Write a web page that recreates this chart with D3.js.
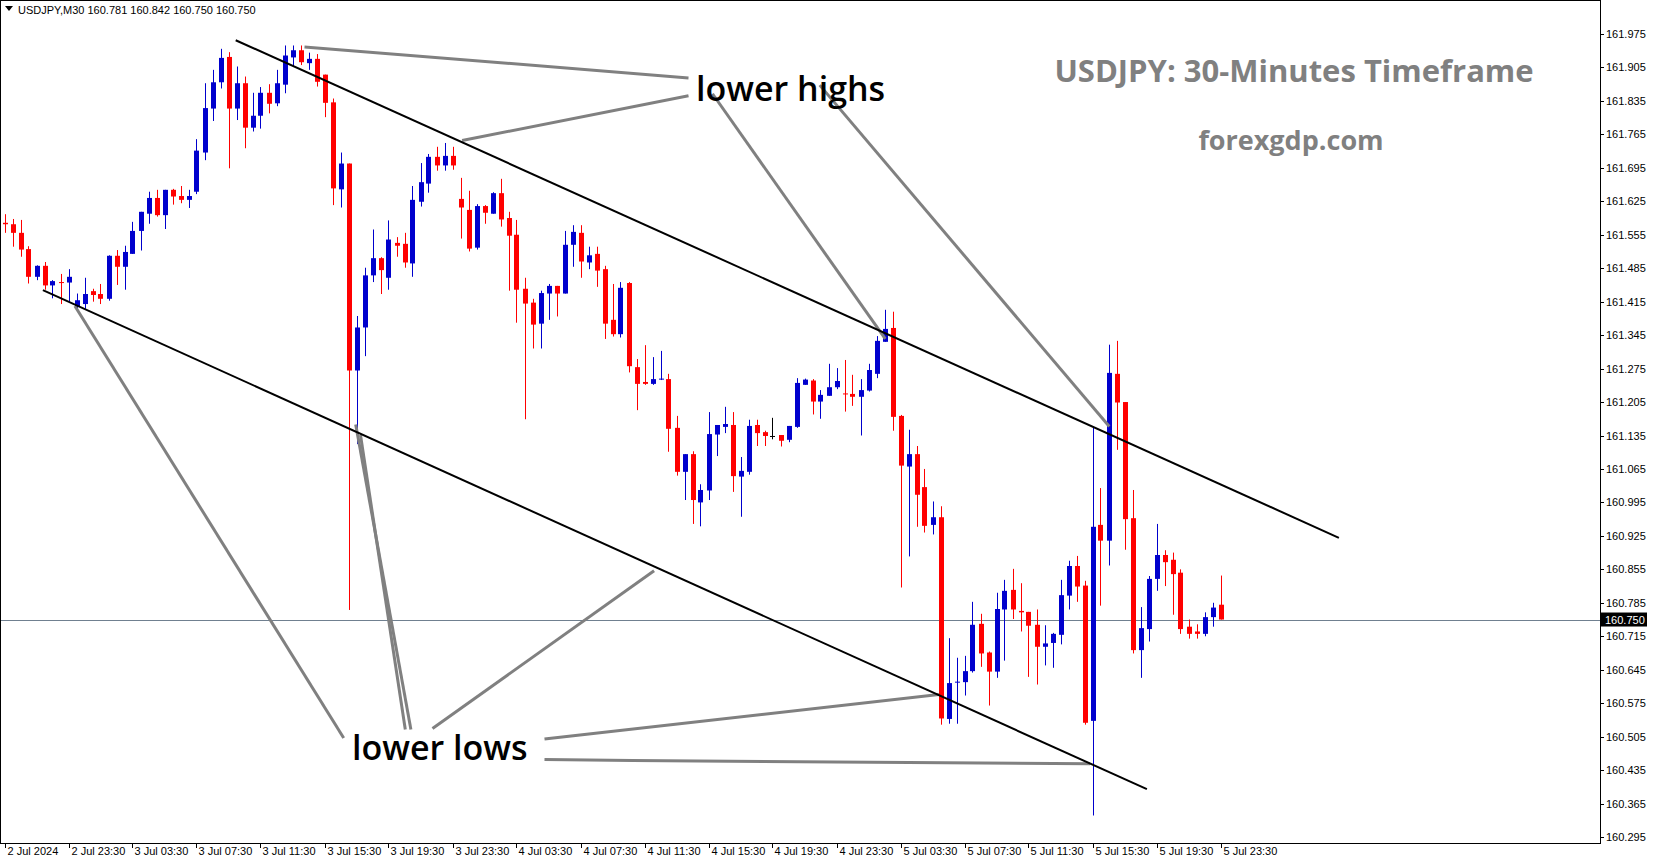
<!DOCTYPE html>
<html>
<head>
<meta charset="utf-8">
<script src="https://cdn.jsdelivr.net/npm/d3@7"></script>
<style>
  body { margin: 0; background: #fff; }
  svg { display: block; }
  .tick-label { font-family: "Liberation Sans", Arial, sans-serif; font-size: 11px; fill: #000; }
</style>
</head>
<body>
<div id="main"></div>
<script>
// OHLC for USDJPY M30, bar 0 = 2 Jul 19:30, bar 152 = 5 Jul 23:30
var opens = [161.580,161.577,161.559,161.525,161.467,161.490,161.449,161.456,161.455,161.405,
  161.410,161.437,161.431,161.421,161.511,161.488,161.515,161.563,161.599,161.632,
  161.596,161.649,161.636,161.628,161.645,161.727,161.819,161.874,161.927,161.819,
  161.872,161.779,161.804,161.852,161.830,161.869,161.926,161.941,161.914,161.923,
  161.890,161.832,161.650,161.704,161.271,161.361,161.470,161.506,161.465,161.538,
  161.536,161.495,161.624,161.662,161.718,161.700,161.720,161.630,161.607,161.528,
  161.615,161.599,161.642,161.590,161.555,161.442,161.413,161.369,161.432,161.448,
  161.432,161.534,161.559,161.497,161.515,161.483,161.377,161.347,161.454,161.278,
  161.247,161.243,161.253,161.253,161.151,161.059,161.096,160.995,161.020,161.137,
  161.153,161.157,161.049,161.059,161.157,161.142,161.134,161.136,161.126,161.153,
  161.241,161.250,161.206,161.218,161.236,161.223,161.222,161.216,161.229,161.264,
  161.331,161.360,161.176,161.070,161.096,161.027,160.948,160.964,160.542,160.618,
  160.619,160.642,160.741,160.681,160.641,160.771,160.812,160.768,160.766,160.739,
  160.693,160.701,160.718,160.800,160.862,160.821,160.538,160.948,160.915,161.264,
  161.205,160.962,160.686,160.730,160.835,160.885,160.875,160.848,160.735,160.725,
  160.720,160.755,160.781];
var highs = [161.598,161.588,161.586,161.531,161.491,161.498,161.460,161.473,161.483,161.432,
  161.465,161.442,161.452,161.512,161.523,161.532,161.582,161.603,161.645,161.649,
  161.649,161.651,161.657,161.649,161.755,161.872,161.900,161.944,161.937,161.907,
  161.886,161.852,161.864,161.870,161.900,161.951,161.951,161.951,161.936,161.933,
  161.890,161.840,161.727,161.704,161.385,161.486,161.566,161.508,161.585,161.550,
  161.559,161.657,161.705,161.724,161.739,161.747,161.739,161.674,161.647,161.619,
  161.617,161.644,161.672,161.603,161.586,161.465,161.421,161.438,161.452,161.448,
  161.563,161.575,161.575,161.530,161.530,161.490,161.452,161.456,161.456,161.295,
  161.324,161.299,161.312,161.264,161.176,161.096,161.102,161.033,161.184,161.157,
  161.195,161.184,161.090,161.168,161.168,161.145,161.172,161.136,161.155,161.255,
  161.254,161.253,161.230,161.285,161.276,161.293,161.262,161.253,161.285,161.343,
  161.398,161.394,161.178,161.147,161.113,161.065,160.997,160.987,160.711,160.670,
  160.674,160.787,160.762,160.683,160.806,160.833,160.856,160.826,160.766,160.771,
  160.738,160.722,160.833,160.873,160.883,160.831,161.153,161.025,161.325,161.333,
  161.205,161.021,160.776,160.841,160.950,160.895,160.890,160.855,160.750,160.740,
  160.765,160.785,160.842];
var lows = [161.559,161.530,161.509,161.453,161.460,161.440,161.422,161.410,161.415,161.395,
  161.400,161.415,161.410,161.417,161.450,161.440,161.515,161.522,161.578,161.593,
  161.567,161.618,161.621,161.611,161.640,161.711,161.793,161.861,161.694,161.795,
  161.736,161.771,161.777,161.809,161.824,161.851,161.907,161.910,161.900,161.865,
  161.801,161.617,161.612,160.770,161.117,161.301,161.456,161.431,161.440,161.509,
  161.486,161.467,161.614,161.643,161.689,161.689,161.691,161.547,161.520,161.524,
  161.578,161.599,161.572,161.438,161.371,161.169,161.317,161.317,161.377,161.384,
  161.432,161.488,161.465,161.483,161.446,161.337,161.342,161.340,161.267,161.188,
  161.241,161.241,161.251,161.101,161.051,161.000,160.950,160.945,161.000,161.092,
  161.140,161.017,160.965,161.053,161.113,161.113,161.127,161.112,161.121,161.151,
  161.241,161.179,161.170,161.218,161.232,161.185,161.197,161.135,161.227,161.255,
  161.331,161.145,160.817,160.882,160.944,160.932,160.928,160.530,160.532,160.532,
  160.591,160.639,160.651,160.570,160.628,160.664,160.751,160.725,160.630,160.614,
  160.654,160.649,160.698,160.771,160.787,160.530,160.340,160.779,160.863,161.105,
  160.896,160.679,160.628,160.704,160.810,160.820,160.760,160.720,160.710,160.710,
  160.715,160.735,160.750];
var closes = [161.577,161.559,161.524,161.467,161.490,161.449,161.458,161.454,161.467,161.418,
  161.431,161.429,161.421,161.511,161.488,161.519,161.563,161.603,161.632,161.596,
  161.649,161.635,161.628,161.636,161.731,161.820,161.874,161.925,161.819,161.872,
  161.779,161.804,161.852,161.829,161.872,161.930,161.941,161.916,161.923,161.875,
  161.831,161.652,161.704,161.271,161.361,161.470,161.506,161.481,161.545,161.532,
  161.497,161.628,161.665,161.718,161.700,161.720,161.700,161.612,161.526,161.615,
  161.601,161.642,161.587,161.553,161.440,161.411,161.367,161.433,161.448,161.432,
  161.534,161.561,161.499,161.512,161.480,161.369,161.347,161.444,161.280,161.243,
  161.243,161.253,161.254,161.149,161.059,161.096,161.000,161.021,161.138,161.157,
  161.159,161.050,161.061,161.155,161.140,161.134,161.134,161.124,161.155,161.245,
  161.252,161.206,161.220,161.236,161.249,161.221,161.216,161.230,161.272,161.333,
  161.358,161.174,161.072,161.096,161.011,160.946,160.964,160.543,160.617,160.620,
  160.642,160.739,160.679,160.641,160.772,160.810,160.771,160.765,160.737,160.693,
  160.700,160.720,160.801,160.862,160.819,160.534,160.944,160.915,161.266,161.204,
  160.960,160.686,160.732,160.835,160.885,160.870,160.845,160.730,160.720,160.720,
  160.755,160.775,160.750];

var timeLabels = ["2 Jul 2024","2 Jul 23:30","3 Jul 03:30","3 Jul 07:30","3 Jul 11:30","3 Jul 15:30",
  "3 Jul 19:30","3 Jul 23:30","4 Jul 03:30","4 Jul 07:30","4 Jul 11:30","4 Jul 15:30","4 Jul 19:30",
  "4 Jul 23:30","5 Jul 03:30","5 Jul 07:30","5 Jul 11:30","5 Jul 15:30","5 Jul 19:30","5 Jul 23:30"];
var priceTicks = d3.range(0, 25).map(function(k) { return +(161.975 - k * 0.07).toFixed(3); });
var lastPrice = 160.750;

// trend lines and annotation pointers as [bar, price] pairs
var channelLines = [
  [[28.9, 161.962], [166.8, 160.921]],
  [[4.8, 161.439], [142.8, 160.395]]
];
var pointerLines = [
  [[37.5, 161.948], [85.5, 161.883]],
  [[57.2, 161.752], [85.5, 161.846]],
  [[88.5, 161.850], [110.1, 161.337]],
  [[101.9, 161.868], [138.1, 161.154]],
  [[8.8, 161.406], [42.4, 160.502]],
  [[43.9, 161.158], [50.8, 160.520]],
  [[44.5, 161.136], [50.1, 160.520]],
  [[53.5, 160.522], [81.2, 160.852]],
  [[67.5, 160.500], [116.8, 160.593]],
  [[67.5, 160.457], [78.5, 160.455], [135.7, 160.448]]
];

var W = 1673, H = 861, plotRight = 1600, plotBottom = 843;

var svg = d3.select('#main').append('svg')
    .attr('width', W).attr('height', H);

var x = d3.scaleLinear().domain([0, 152]).range([4.5, 1220.5]);
var y = d3.scaleLinear().domain([160.295, 161.975]).range([837, 34]);

// frame
svg.append('rect').attr('x', 0.5).attr('y', 0.5)
    .attr('width', plotRight).attr('height', plotBottom)
    .attr('fill', 'none').attr('stroke', '#000');

// price axis
var yAxis = svg.append('g');
priceTicks.forEach(function(p) {
  yAxis.append('line').attr('x1', plotRight).attr('x2', plotRight + 4)
      .attr('y1', Math.round(y(p)) + 0.5).attr('y2', Math.round(y(p)) + 0.5).attr('stroke', '#000');
  yAxis.append('text').attr('class', 'tick-label')
      .attr('x', plotRight + 6).attr('y', y(p) + 4).text(p.toFixed(3));
});

// time axis
var xAxis = svg.append('g');
timeLabels.forEach(function(t, i) {
  var bx = Math.round(x(i * 8)) + 0.5;
  xAxis.append('line').attr('x1', bx).attr('x2', bx)
      .attr('y1', plotBottom).attr('y2', plotBottom + 5).attr('stroke', '#000');
  xAxis.append('text').attr('class', 'tick-label')
      .attr('x', bx + 2).attr('y', plotBottom + 12).text(t);
});

// current price line
svg.append('line').attr('x1', 1).attr('x2', plotRight)
    .attr('y1', Math.round(y(lastPrice)) + 0.5).attr('y2', Math.round(y(lastPrice)) + 0.5)
    .attr('stroke', '#708090').attr('stroke-width', 1);
svg.append('rect').attr('x', plotRight + 1).attr('y', y(lastPrice) - 7)
    .attr('width', 46).attr('height', 14).attr('fill', '#000');
svg.append('text').attr('class', 'tick-label').style('fill', '#fff')
    .attr('x', plotRight + 5).attr('y', y(lastPrice) + 4).text(lastPrice.toFixed(3));

// candles
var bars = d3.range(opens.length).map(function(i) {
  return { i: i, o: opens[i], h: highs[i], l: lows[i], c: closes[i] };
});
function colour(d) { return d.c > d.o ? '#0000cd' : (d.c < d.o ? '#ff0000' : '#000'); }

var candle = svg.append('g').selectAll('g').data(bars).enter().append('g');
candle.append('line')
    .attr('x1', function(d) { return Math.round(x(d.i)) + 0.5; })
    .attr('x2', function(d) { return Math.round(x(d.i)) + 0.5; })
    .attr('y1', function(d) { return y(d.h); })
    .attr('y2', function(d) { return y(d.l); })
    .attr('stroke', colour).attr('stroke-width', 1);
candle.append('rect')
    .attr('x', function(d) { return Math.round(x(d.i)) - 2; })
    .attr('y', function(d) { return y(Math.max(d.o, d.c)); })
    .attr('width', 5)
    .attr('height', function(d) { return Math.max(1, y(Math.min(d.o, d.c)) - y(Math.max(d.o, d.c))); })
    .attr('fill', colour);

// channel and pointers
var line = d3.line()
    .x(function(d) { return x(d[0]); })
    .y(function(d) { return y(d[1]); });
svg.append('g').selectAll('path').data(pointerLines).enter().append('path')
    .attr('d', line).attr('fill', 'none').attr('stroke', '#808080').attr('stroke-width', 3);
svg.append('g').selectAll('path').data(channelLines).enter().append('path')
    .attr('d', line).attr('fill', 'none').attr('stroke', '#000').attr('stroke-width', 2);

// labels
svg.append('text').attr('x', 696).attr('y', 101)
    .style('font-family', '"Open Sans", sans-serif').style('font-weight', 600)
    .style('font-size', '34px').text('lower highs');
svg.append('text').attr('x', 352).attr('y', 760)
    .style('font-family', '"Open Sans", sans-serif').style('font-weight', 600)
    .style('font-size', '34px').text('lower lows');
svg.append('text').attr('x', 1294).attr('y', 82).attr('text-anchor', 'middle')
    .style('font-family', '"Open Sans", sans-serif').style('font-weight', 700)
    .style('font-size', '31px').style('fill', '#808080').text('USDJPY: 30-Minutes Timeframe');
svg.append('text').attr('x', 1291).attr('y', 150).attr('text-anchor', 'middle')
    .style('font-family', '"Open Sans", sans-serif').style('font-weight', 700)
    .style('font-size', '27px').style('fill', '#808080').text('forexgdp.com');

// header
svg.append('path').attr('d', 'M5,6 L13,6 L9,11 Z').attr('fill', '#000');
svg.append('text').attr('class', 'tick-label').attr('x', 18).attr('y', 14)
    .text('USDJPY,M30  160.781 160.842 160.750 160.750');
</script>
</body>
</html>
